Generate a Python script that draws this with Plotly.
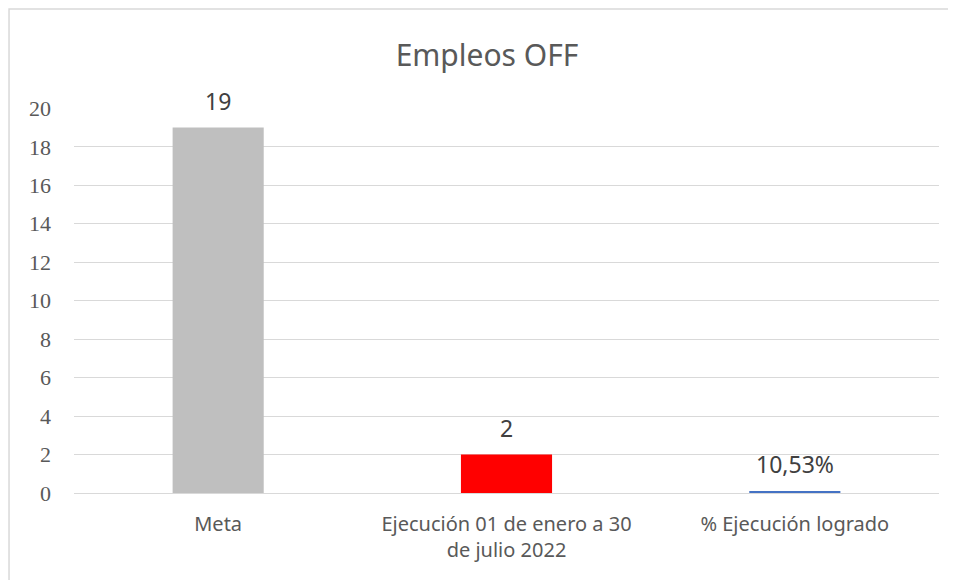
import plotly.graph_objects as go

categories = ["Meta", "Ejecución 01 de enero a 30<br>de julio 2022", "% Ejecución logrado"]
values = [19, 2, 0.1053]
labels = ["19", "2", "10,53%"]
colors = ["#BFBFBF", "#FF0000", "#4472C4"]
y_ticks = [0, 2, 4, 6, 8, 10, 12, 14, 16, 18, 20]

W, H = 948, 572

fig = go.Figure()
fig.add_trace(go.Bar(
    x=categories, y=values,
    marker=dict(color=colors, line=dict(width=0)),
    width=0.316, hoverinfo="skip",
))

for c, v, t in zip(categories, values, labels):
    fig.add_annotation(x=c, y=v, text=t, showarrow=False, yanchor="bottom", yshift=9,
                       font=dict(family="Noto Sans", size=23, color="#404040"))

fig.update_layout(
    width=W, height=H,
    margin=dict(l=66, r=17, t=100, b=87),
    paper_bgcolor="white", plot_bgcolor="white",
    showlegend=False,
    title=dict(text="Empleos OFF", x=479/W, xanchor="center", y=1-47/H, yanchor="middle",
               font=dict(family="Noto Sans", size=30, color="#595959")),
    xaxis=dict(showgrid=False, showline=False, ticks="", ticklabelstandoff=17,
               tickfont=dict(family="Noto Sans", size=20, color="#595959")),
    yaxis=dict(range=[0, 20.02], tickvals=y_ticks, showgrid=True, gridcolor="#D9D9D9", gridwidth=1,
               zeroline=True, zerolinecolor="#D9D9D9", zerolinewidth=1, showline=False,
               ticklabelstandoff=22,
               tickfont=dict(family="Liberation Serif", size=22, color="#595959")),
    shapes=[dict(type="rect", xref="paper", yref="paper", x0=-0.0751, x1=1.2, y0=-0.5, y1=1.257,
                 line=dict(color="#D9D9D9", width=1.5), layer="below")],
)

fig.write_html("out.html")
